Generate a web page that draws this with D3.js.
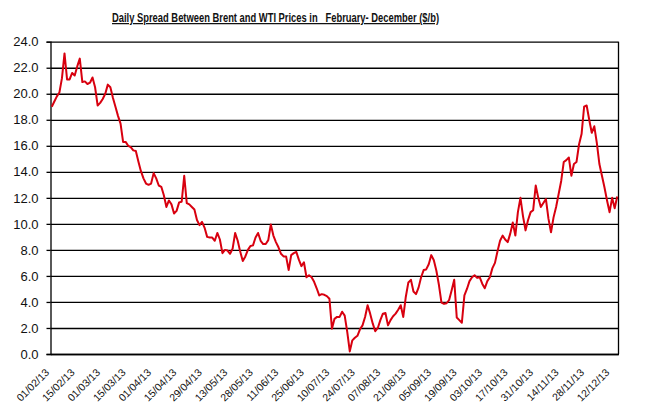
<!DOCTYPE html>
<html>
<head>
<meta charset="utf-8">
<script src="https://cdn.jsdelivr.net/npm/d3@7"></script>
<style>
    body { margin: 0; background: #fff; }
    text { font-family: "Liberation Sans", Arial, sans-serif; }
</style>
</head>
<body>
<div id="chart"></div>
<script>
// chart title
const title = "Daily Spread Between Brent and WTI Prices in   February- December ($/b)";

// one label every 10 trading days
const tickLabels = ["01/02/13", "15/02/13", "01/03/13", "15/03/13", "01/04/13", "15/04/13",
    "29/04/13", "13/05/13", "28/05/13", "11/06/13", "25/06/13", "10/07/13", "24/07/13",
    "07/08/13", "21/08/13", "05/09/13", "19/09/13", "03/10/13", "17/10/13", "31/10/13",
    "14/11/13", "28/11/13", "12/12/13"];

const yTicks = [0, 2, 4, 6, 8, 10, 12, 14, 16, 18, 20, 22, 24];

// Brent - WTI spread ($/b), one value per trading day
const spread = [
    19.0, 19.4, 19.8, 20.1, 21.2, 23.1, 21.1, 21.1, 21.6, 21.4,
    22.1, 22.7, 20.9, 20.95, 20.75, 20.85, 21.25, 20.5, 19.1, 19.3,
    19.6, 20.0, 20.7, 20.5, 19.7, 19.0, 18.3, 17.7, 16.3, 16.3,
    16.0, 15.9, 15.65, 15.6, 14.8, 14.05, 13.5, 13.1, 13.0, 13.1,
    13.9, 13.5, 12.95, 12.85, 12.2, 11.3, 11.8, 11.5, 10.8, 11.0,
    11.65, 11.7, 13.7, 11.6, 11.5, 11.3, 11.1, 10.3, 9.9, 10.15,
    9.7, 9.0, 8.95, 8.95, 8.7, 9.3, 8.8, 7.75, 8.0, 7.95,
    7.7, 8.1, 9.3, 8.7, 7.85, 7.15, 7.5, 8.0, 8.3, 8.35,
    8.95, 9.3, 8.7, 8.45, 8.45, 8.75, 9.95, 9.1, 8.6, 8.2,
    7.7, 7.5, 7.5, 6.45, 7.6, 7.75, 7.85, 7.25, 6.75, 7.05,
    5.9, 6.05, 5.9, 5.55, 5.05, 4.5, 4.6, 4.55, 4.45, 4.25,
    1.95, 2.7, 2.85, 2.85, 3.25, 2.95, 1.7, 0.2, 1.05, 1.25,
    1.4, 1.9, 2.2, 2.85, 3.75, 3.1, 2.35, 1.75, 2.0, 2.6,
    3.1, 3.15, 2.2, 2.6, 2.9, 3.1, 3.4, 3.75, 2.85, 4.4,
    5.5, 5.7, 4.8, 4.6, 5.1, 5.9, 6.45, 6.5, 6.9, 7.6,
    7.2, 6.4, 5.3, 3.95, 3.85, 3.9, 4.15, 4.9, 5.7, 2.8,
    2.6, 2.4, 4.5, 5.0, 5.6, 5.9, 6.05, 5.85, 5.9, 5.4,
    5.05, 5.6, 5.9, 6.6, 7.0, 7.9, 8.7, 9.1, 8.8, 8.6,
    9.25, 10.1, 9.1, 10.9, 12.0, 10.6, 9.5, 10.3, 10.9, 11.05,
    12.95, 12.0, 11.3, 11.6, 11.9, 10.4, 9.35, 10.5, 11.3, 12.3,
    13.3, 14.75, 14.9, 15.1, 13.7, 14.6, 14.75, 16.1, 16.9, 19.0,
    19.1, 18.0, 17.0, 17.5, 16.2, 14.6, 13.7, 12.8, 11.8, 10.9,
    12.0, 11.2, 12.1
];

function drawChart() {
    var W = 662, H = 413;
    var left = 50.5, right = 618.5, top = 41.7, bottom = 354;

    var svg = d3.select("#chart").append("svg")
        .attr("width", W)
        .attr("height", H);

    var x = d3.scaleBand()
        .domain(d3.range(spread.length))
        .range([left, right]);

    var y = d3.scaleLinear()
        .domain([0, 24])
        .range([bottom, top]);

    // horizontal grid
    svg.append("g")
        .attr("transform", "translate(" + left + ",0)")
        .call(d3.axisLeft(y).tickValues(yTicks).tickSize(-(right - left)).tickFormat(""))
        .call(g => g.select(".domain").remove())
        .selectAll("line").attr("stroke", "#000").attr("stroke-width", 1.3);

    // y axis
    svg.append("g")
        .attr("transform", "translate(" + left + ",0)")
        .call(d3.axisLeft(y).tickValues(yTicks).tickSize(4).tickPadding(8).tickFormat(d3.format(".1f")))
        .call(g => g.select(".domain").attr("stroke", "#000").attr("stroke-width", 1.3))
        .call(g => g.selectAll("line").attr("stroke", "#000").attr("stroke-width", 1.3))
        .selectAll("text")
        .attr("fill", "#111")
        .style("font-size", "13px");

    // right border
    svg.append("line")
        .attr("x1", right).attr("x2", right)
        .attr("y1", top).attr("y2", bottom)
        .attr("stroke", "#000").attr("stroke-width", 1.3);

    // x axis
    var xTickVals = tickLabels.map((d, i) => i * 10);
    var xAxis = svg.append("g")
        .attr("transform", "translate(0," + bottom + ")")
        .call(d3.axisBottom(x).tickValues(xTickVals).tickSize(0)
            .tickFormat((d, i) => tickLabels[i]));
    xAxis.select(".domain").attr("stroke", "#000").attr("stroke-width", 1.3);
    xAxis.selectAll("text")
        .attr("fill", "#111")
        .style("font-size", "10.5px")
        .style("text-anchor", "end")
        .attr("dx", "0")
        .attr("dy", "0")
        .attr("transform", "translate(-4,17) rotate(-45)");

    // spread line
    var line = d3.line()
        .x((d, i) => x(i) + x.bandwidth() / 2)
        .y(d => y(d));

    svg.append("path")
        .datum(spread)
        .attr("fill", "none")
        .attr("stroke", "#d8000f")
        .attr("stroke-width", 2)
        .attr("stroke-linejoin", "round")
        .attr("d", line);

    // title
    svg.append("text")
        .attr("x", 112)
        .attr("y", 22)
        .attr("textLength", 327)
        .attr("lengthAdjust", "spacingAndGlyphs")
        .style("font-family", "'Liberation Sans Narrow', 'Arial Narrow', 'Liberation Sans', sans-serif")
        .style("font-size", "12.5px")
        .style("font-weight", "bold")
        .style("text-decoration", "underline")
        .style("white-space", "pre")
        .attr("fill", "#111")
        .text(title);
}

drawChart();
</script>
</body>
</html>
